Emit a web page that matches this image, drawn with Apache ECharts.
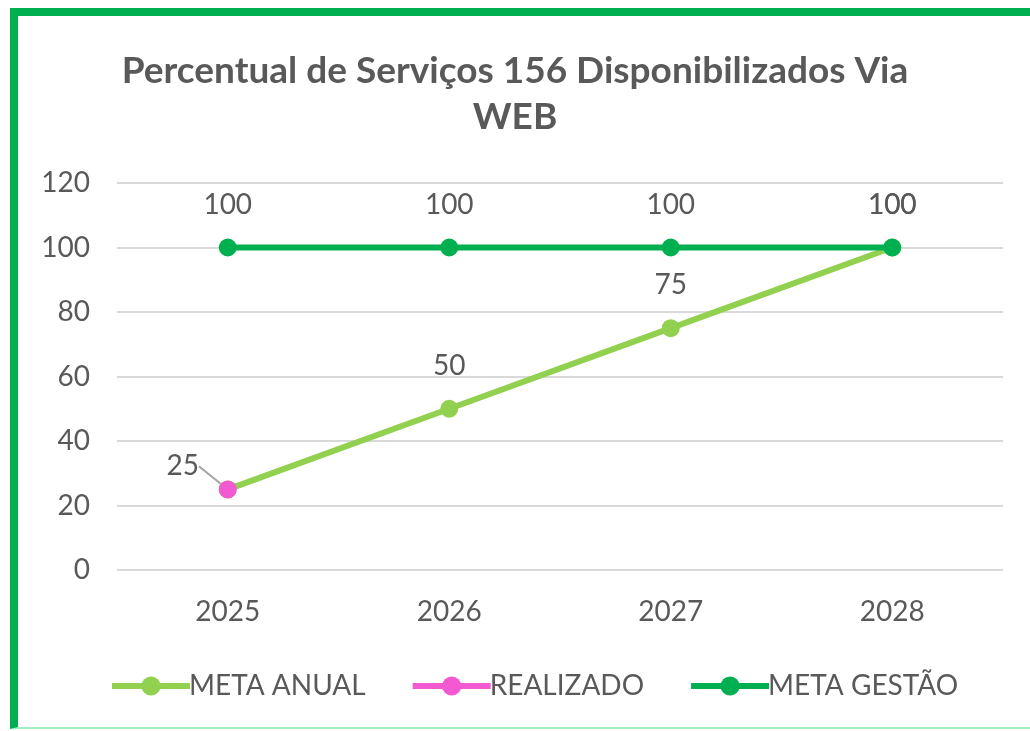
<!DOCTYPE html>
<html><head><meta charset="utf-8">
<script src="https://cdn.jsdelivr.net/npm/echarts@6/dist/echarts.min.js"></script>
<style>
html,body{margin:0;padding:0;background:#fff;overflow:hidden;}
#frame{position:absolute;left:10px;top:8px;width:1040px;height:721px;border-left:8px solid #00B050;border-top:8px solid #00B050;border-bottom:2px solid #9FEFC0;box-sizing:border-box;}
#chart{position:absolute;left:0;top:0;width:1030px;height:731px;}
</style></head>
<body>
<div id="frame"></div>
<div id="chart"></div>
<script>
const categories = ['2025','2026','2027','2028'];
const metaAnual = [25, 50, 75, 100];
const realizado = [25, null, null, null];
const metaGestao = [100, 100, 100, 100];
const yTicks = [0, 20, 40, 60, 80, 100, 120];

const FONT = 'Lato';
const TXT = '#595959';

const chart = echarts.init(document.getElementById('chart'), null, {renderer:'canvas'});
const labelBase = {show:true, position:'top', distance:20, color:TXT, fontSize:28, fontFamily:FONT};

chart.setOption({
  backgroundColor:'transparent',
  title:{
    text:'Percentual de Serviços 156 Disponibilizados Via\nWEB',
    left:'center', top:43,
    textStyle:{fontFamily:FONT, fontSize:37, fontWeight:'bold', color:TXT, lineHeight:46}
  },
  grid:{left:117, right:27, top:183, bottom:161},
  xAxis:{
    type:'category', data:categories, boundaryGap:true,
    axisLine:{show:false}, axisTick:{show:false},
    axisLabel:{color:TXT, fontSize:28, fontFamily:FONT, margin:28}
  },
  yAxis:{
    type:'value', min:yTicks[0], max:yTicks[yTicks.length-1], interval:20,
    axisLine:{show:false}, axisTick:{show:false},
    axisLabel:{color:TXT, fontSize:28, fontFamily:FONT, margin:27},
    splitLine:{lineStyle:{color:'#D9D9D9', width:2}}
  },
  legend:{
    bottom:26, left:104, itemWidth:78, itemHeight:24, itemGap:44,
    lineStyle:{width:6},
    textStyle:{color:TXT, fontSize:28, fontFamily:FONT, padding:[0,0,0,-6]},
    data:['META ANUAL','REALIZADO','META GESTÃO']
  },
  series:[
    {
      name:'META ANUAL', type:'line', data:metaAnual.map((v,i)=> i===0 ? {value:v, label:{show:false}} : v),
      symbol:'circle', symbolSize:18, z:2,
      lineStyle:{color:'#92D050', width:6}, itemStyle:{color:'#92D050'},
      label:labelBase
    },
    {
      name:'REALIZADO', type:'line', data:realizado,
      symbol:'circle', symbolSize:18, z:4,
      lineStyle:{color:'#F359D1', width:6}, itemStyle:{color:'#F359D1'},
      label:Object.assign({}, labelBase, {distance:5}),
      labelLayout:{dx:-45, dy:5},
      labelLine:{show:true, lineStyle:{color:'#A6A6A6', width:2}}
    },
    {
      name:'META GESTÃO', type:'line', data:metaGestao,
      symbol:'circle', symbolSize:18, z:3,
      lineStyle:{color:'#00B050', width:6}, itemStyle:{color:'#00B050'},
      label:labelBase
    }
  ]
});
</script>
</body></html>
